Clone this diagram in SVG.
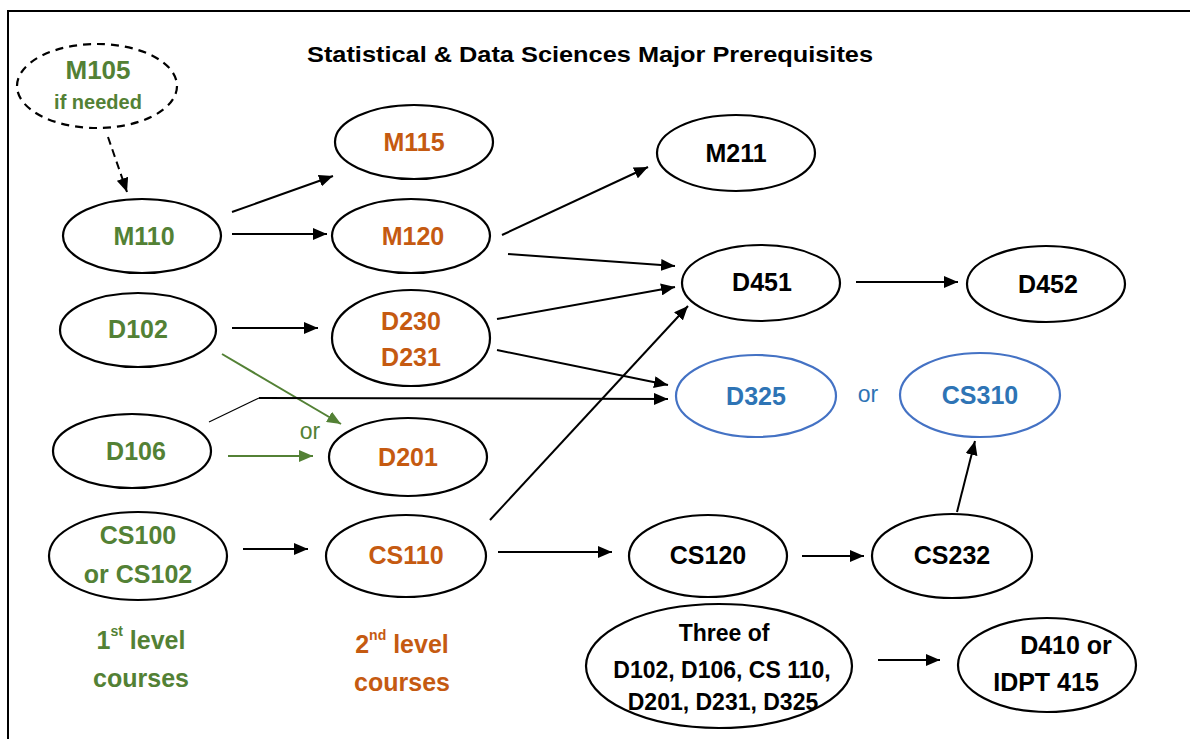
<svg xmlns="http://www.w3.org/2000/svg" width="1190" height="739" viewBox="0 0 1190 739">
<style>
text{font-family:"Liberation Sans",Arial,sans-serif;font-weight:bold;text-anchor:middle;dominant-baseline:central}
.n{fill:#fff;stroke:#000;stroke-width:2.2}
.b{fill:#fff;stroke:#4472C4;stroke-width:2.2}
.g{fill:#538135}.o{fill:#C55A11}.k{fill:#000}.bl{fill:#2E74B5}
.t{font-size:25px}
.c{stroke:#000;stroke-width:2;fill:none}
.cg{stroke:#538135;stroke-width:2;fill:none}
</style>
<defs>
<marker id="ak" viewBox="0 0 14 12" refX="14" refY="6" markerWidth="14" markerHeight="12" markerUnits="userSpaceOnUse" orient="auto"><path d="M0,0 L14,6 L0,12 z" fill="#000"/></marker>
<marker id="ag" viewBox="0 0 14 12" refX="14" refY="6" markerWidth="14" markerHeight="12" markerUnits="userSpaceOnUse" orient="auto"><path d="M0,0 L14,6 L0,12 z" fill="#538135"/></marker>
</defs>
<rect x="0" y="0" width="1190" height="739" fill="#fff"/>
<path d="M8,739 V11 H1190" fill="none" stroke="#000" stroke-width="2"/>
<text x="590" y="54" style="font-size:22px" textLength="566" lengthAdjust="spacingAndGlyphs">Statistical &amp; Data Sciences Major Prerequisites</text>
<g id="connectors">
<line class="c" x1="108" y1="137" x2="127" y2="192" stroke-dasharray="8,5" marker-end="url(#ak)"/>
<line class="c" x1="232" y1="212" x2="333" y2="176" marker-end="url(#ak)"/>
<line class="c" x1="232" y1="234" x2="327" y2="234" marker-end="url(#ak)"/>
<line class="c" x1="502" y1="235" x2="648" y2="167" marker-end="url(#ak)"/>
<line class="c" x1="508" y1="254" x2="675" y2="266" marker-end="url(#ak)"/>
<line class="c" x1="497" y1="319" x2="675" y2="287" marker-end="url(#ak)"/>
<line class="c" x1="497" y1="350" x2="668" y2="385" marker-end="url(#ak)"/>
<line class="c" x1="232" y1="328" x2="318" y2="328" marker-end="url(#ak)"/>
<line class="cg" x1="222" y1="354" x2="341" y2="424" marker-end="url(#ag)"/>
<path d="M209,422 L259,398" stroke="#000" stroke-width="1.2" fill="none"/>
<line class="c" x1="259" y1="398" x2="668" y2="399" marker-end="url(#ak)"/>
<line class="cg" x1="228" y1="456" x2="313" y2="456" marker-end="url(#ag)"/>
<line class="c" x1="243" y1="549" x2="308" y2="549" marker-end="url(#ak)"/>
<line class="c" x1="490" y1="520" x2="688" y2="306" marker-end="url(#ak)"/>
<line class="c" x1="498" y1="552" x2="612" y2="552" marker-end="url(#ak)"/>
<line class="c" x1="802" y1="556" x2="864" y2="556" marker-end="url(#ak)"/>
<line class="c" x1="957" y1="512" x2="975" y2="441" marker-end="url(#ak)"/>
<line class="c" x1="856" y1="282" x2="958" y2="282" marker-end="url(#ak)"/>
<line class="c" x1="878" y1="660" x2="940" y2="660" marker-end="url(#ak)"/>
<text x="310" y="431" class="g" style="font-weight:normal;font-size:23px">or</text>
<text x="868" y="394" class="bl" style="font-weight:normal;font-size:23px">or</text>
</g>
<g id="M105"><ellipse cx="97" cy="86" rx="80" ry="42" fill="#fff" stroke="#000" stroke-width="2.2" stroke-dasharray="8,6"/><text x="98" y="70" class="g" style="font-size:26px">M105</text><text x="98" y="102" class="g" style="font-size:20px">if needed</text></g>
<g id="M110"><ellipse class="n" cx="142" cy="236" rx="79" ry="37"/><text x="144" y="236" class="g t">M110</text></g>
<g id="D102"><ellipse class="n" cx="138" cy="330" rx="78" ry="37"/><text x="138" y="329" class="g t">D102</text></g>
<g id="D106"><ellipse class="n" cx="132" cy="451" rx="79" ry="37"/><text x="136" y="451" class="g t">D106</text></g>
<g id="CS100"><ellipse class="n" cx="138" cy="556" rx="89" ry="44"/><text x="138" y="535" class="g t">CS100</text><text x="138" y="574" class="g t">or CS102</text></g>
<g id="level1"><text x="141" y="640" class="g" style="font-size:25px">1<tspan dy="-9" style="font-size:14px">st</tspan><tspan dy="9"> level</tspan></text><text x="141" y="678" class="g" style="font-size:25px">courses</text></g>
<g id="M115"><ellipse class="n" cx="414" cy="142" rx="79" ry="37"/><text x="414" y="142" class="o t">M115</text></g>
<g id="M120"><ellipse class="n" cx="411" cy="236" rx="79" ry="37"/><text x="413" y="236" class="o t">M120</text></g>
<g id="D230"><ellipse class="n" cx="411" cy="338" rx="79" ry="48"/><text x="411" y="321" class="o t">D230</text><text x="411" y="357" class="o t">D231</text></g>
<g id="D201"><ellipse class="n" cx="408" cy="457" rx="79" ry="39"/><text x="408" y="457" class="o t">D201</text></g>
<g id="CS110"><ellipse class="n" cx="406" cy="556" rx="80" ry="41"/><text x="406" y="555" class="o t">CS110</text></g>
<g id="level2"><text x="402" y="644" class="o" style="font-size:25px">2<tspan dy="-9" style="font-size:14px">nd</tspan><tspan dy="9"> level</tspan></text><text x="402" y="682" class="o" style="font-size:25px">courses</text></g>
<g id="M211"><ellipse class="n" cx="736" cy="153" rx="79" ry="38"/><text x="736" y="153" class="k t">M211</text></g>
<g id="D451"><ellipse class="n" cx="761" cy="283" rx="79" ry="38"/><text x="762" y="282" class="k t">D451</text></g>
<g id="D452"><ellipse class="n" cx="1046" cy="284" rx="79" ry="38"/><text x="1048" y="284" class="k t">D452</text></g>
<g id="D325"><ellipse class="b" cx="756" cy="396" rx="80" ry="41"/><text x="756" y="396" class="bl t">D325</text></g>
<g id="CS310"><ellipse class="b" cx="980" cy="395" rx="80" ry="42"/><text x="980" y="395" class="bl t">CS310</text></g>
<g id="CS120"><ellipse class="n" cx="708" cy="556" rx="79" ry="41"/><text x="708" y="555" class="k t">CS120</text></g>
<g id="CS232"><ellipse class="n" cx="952" cy="556" rx="80" ry="42"/><text x="952" y="555" class="k t">CS232</text></g>
<g id="ThreeOf"><ellipse class="n" cx="719" cy="666" rx="133" ry="62"/><text x="724" y="633" class="k" style="font-size:23px">Three of</text><text x="722" y="670" class="k" style="font-size:23px">D102, D106, CS 110,</text><text x="723" y="702" class="k" style="font-size:23px">D201, D231, D325</text></g>
<g id="D410"><ellipse class="n" cx="1047" cy="665" rx="89" ry="47"/><text x="1066" y="645" class="k" style="font-size:25px">D410 or</text><text x="1046" y="682" class="k" style="font-size:25px">IDPT 415</text></g>
</svg>
